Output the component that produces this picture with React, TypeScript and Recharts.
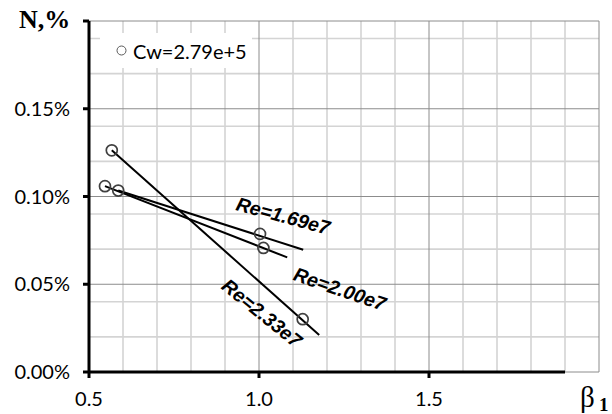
import {
  ComposedChart, Scatter, XAxis, YAxis, CartesianGrid, ReferenceDot, ReferenceLine
} from 'recharts'

// measured points (beta_1, N in %)
const cwX = [0.567, 0.547, 0.586, 1.003, 1.013, 1.1285]
const cwY = [0.1263, 0.1059, 0.1034, 0.0787, 0.0707, 0.0301]
const cwName = 'Cw=2.79e+5'

// trend lines, start / end
const re169X = [0.586, 1.13]
const re169Y = [0.1034, 0.0697]
const re200X = [0.547, 1.083]
const re200Y = [0.1059, 0.0653]
const re233X = [0.567, 1.177]
const re233Y = [0.1263, 0.0211]

// curve labels: text, anchor x, anchor y, angle
const labelText = ['Re=1.69e7', 'Re=2.00e7', 'Re=2.33e7']
const labelX = [1.071, 1.238, 1.009]
const labelY = [0.0891, 0.0474, 0.0337]
const labelAngle = [15, 19, 39]

const xTicks = [0.5, 1.0, 1.5]
const yTicks = [0, 0.05, 0.1, 0.15, 0.2]
const xMajor = [1.0, 1.5, 2.0]
const xMinor = [0.6, 0.7, 0.8, 0.9, 1.1, 1.2, 1.3, 1.4, 1.6, 1.7, 1.8, 1.9]
const yMajor = [0, 0.05, 0.1, 0.15, 0.2]
const yMinor = [
  0.01, 0.02, 0.03, 0.04, 0.06, 0.07, 0.08, 0.09,
  0.11, 0.12, 0.13, 0.14, 0.16, 0.17, 0.18, 0.19,
]

const zip = (xs: number[], ys: number[]) => xs.map((x, i) => ({ x, y: ys[i] }))

const W = 612
const H = 414
const tickFont = 'Lato, "Liberation Sans", sans-serif'

const OpenCircle = (p: any) => (
  <circle cx={p.cx} cy={p.cy} r={5.5} fill="none" stroke="#404040" strokeWidth={1.7} />
)
const NoShape = () => <g />

export default function App() {
  const points = zip(cwX, cwY)
  const trends = [zip(re169X, re169Y), zip(re200X, re200Y), zip(re233X, re233Y)]

  return (
    <div style={{ position: 'absolute', left: 0, top: 0, width: W, height: H, background: '#fff' }}>
      <ComposedChart width={W} height={H} margin={{ top: 21, right: 13, left: 0, bottom: 0 }}>
        <CartesianGrid
          stroke="#d4d4d4"
          strokeWidth={1.6}
          verticalValues={xMinor}
          horizontalValues={yMinor}
        />
        <CartesianGrid
          stroke="#8c8c8c"
          strokeWidth={1}
          verticalValues={xMajor}
          horizontalValues={yMajor}
        />
        <XAxis
          type="number"
          dataKey="x"
          domain={[0.5, 2.0]}
          ticks={xTicks}
          allowDataOverflow
          axisLine={false}
          tickLine={{ stroke: '#000', strokeWidth: 3 }}
          tickSize={6}
          tickMargin={14}
          height={42}
          tick={{ fontSize: 20, fill: '#000', fontFamily: tickFont }}
          tickFormatter={(v) => v.toFixed(1)}
        />
        <YAxis
          type="number"
          dataKey="y"
          domain={[0, 0.2]}
          ticks={yTicks}
          allowDataOverflow
          width={89}
          axisLine={{ stroke: '#000', strokeWidth: 3 }}
          tickLine={{ stroke: '#000', strokeWidth: 3 }}
          tickSize={6}
          tickMargin={13}
          tick={{ fontSize: 20, fill: '#000', fontFamily: tickFont }}
          tickFormatter={(v) => (v === 0.2 ? '' : `${v.toFixed(2)}%`)}
        />
        <ReferenceLine
          segment={[{ x: 0.5, y: 0 }, { x: 1.9, y: 0 }]}
          stroke="#000"
          strokeWidth={3}
        />
        {trends.map((t, i) => (
          <Scatter
            key={i}
            data={t}
            line={{ stroke: '#000', strokeWidth: 2 }}
            lineType="joint"
            shape={NoShape}
            legendType="none"
            isAnimationActive={false}
          />
        ))}
        <Scatter
          name={cwName}
          data={points}
          shape={OpenCircle}
          isAnimationActive={false}
        />
        {labelText.map((t, i) => (
          <ReferenceDot
            key={t}
            x={labelX[i]}
            y={labelY[i]}
            r={0}
            shape={(p: any) => (
              <text
                x={p.cx}
                y={p.cy}
                transform={`rotate(${labelAngle[i]} ${p.cx} ${p.cy})`}
                textAnchor="middle"
                dominantBaseline="central"
                fontFamily='"Liberation Sans", Arial, sans-serif'
                fontWeight="bold"
                fontStyle="italic"
                fontSize={19.5}
                fill="#000"
              >
                {t}
              </text>
            )}
          />
        ))}
      </ComposedChart>
      <svg
        width={W}
        height={H}
        style={{ position: 'absolute', left: 0, top: 0, pointerEvents: 'none' }}
      >
        {/* legend box */}
        <rect x={100} y={33} width={152} height={35} fill="#fff" />
        <circle cx={121.5} cy={50.5} r={4.5} fill="none" stroke="#595959" strokeWidth={1} />
        <text x={133} y={50.5} dominantBaseline="central" fontFamily={tickFont} fontSize={20} fill="#000">
          {cwName}
        </text>
        <text x={19} y={28} fontFamily='"Liberation Serif", serif' fontWeight="bold" fontSize={26}>
          N,%
        </text>
        <text x={580} y={407} fontFamily='"Liberation Serif", serif' fontSize={29}>
          β
        </text>
        <text x={599} y={411} fontFamily='"Liberation Serif", serif' fontWeight="bold" fontSize={19}>
          1
        </text>
      </svg>
    </div>
  )
}
